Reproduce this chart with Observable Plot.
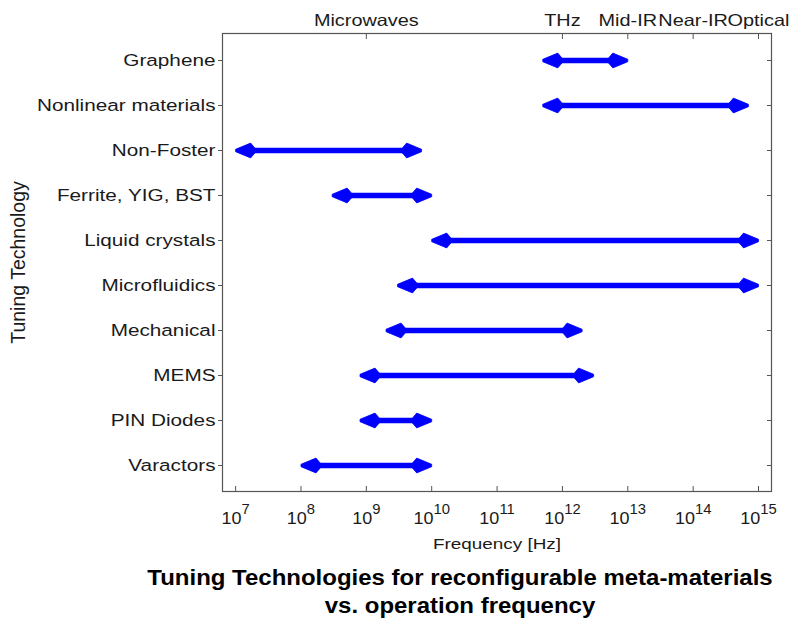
<!DOCTYPE html>
<html><head><meta charset="utf-8">
<script src="https://cdn.jsdelivr.net/npm/d3@7"></script>
<script src="https://cdn.jsdelivr.net/npm/@observablehq/plot@0.6"></script>
<style>
html,body{margin:0;padding:0;background:#fff;overflow:hidden;}
#chart{position:absolute;left:0;top:0;}
#title{position:absolute;left:110px;top:564px;width:700px;text-align:center;font-family:"Liberation Sans",Arial,sans-serif;font-weight:bold;font-size:22px;line-height:28px;color:#000;transform:scaleX(1.09);transform-origin:350px 0;}
</style></head><body>
<div id="chart"></div>
<div id="title">Tuning Technologies for reconfigurable meta-materials<br>vs. operation frequency</div>
<script>
// Data (Hz)
const technologies = ["Graphene","Nonlinear materials","Non-Foster","Ferrite, YIG, BST","Liquid crystals","Microfluidics","Mechanical","MEMS","PIN Diodes","Varactors"];
const lowFreq  = [5e11, 5e11, 1e7, 3e8, 1e10, 3e9, 2e9, 8e8, 8e8, 1e8];
const highFreq = [1e13, 7e14, 7e9, 1e10, 1e15, 1e15, 2e12, 3e12, 1e10, 1e10];
const bottomTicks = [1e7,1e8,1e9,1e10,1e11,1e12,1e13,1e14,1e15];
const bandTicks = [1e9, 1e12, 1e13, 1e14, 1e15];
const bandLabels = ["Microwaves","THz","Mid-IR","Near-IR","Optical"];
const xLabel = "Frequency [Hz]";
const yLabel = "Tuning Technology";

const rows = technologies.map((t,i)=>({tech:t, lo:lowFreq[i], hi:highFreq[i]}));

// arrowhead symbol, tip at origin pointing right
const head = {draw(ctx){
  ctx.moveTo(0,-1.2); ctx.lineTo(-15,-7.4); ctx.lineTo(-19,-2.7);
  ctx.lineTo(-19,2.7); ctx.lineTo(-15,7.4); ctx.lineTo(0,1.2); ctx.closePath();
}};

const blue = "#0000ff", frameCol = "#555";
const font = "Liberation Sans, Arial, sans-serif";

const plot = Plot.plot({
  width: 790, height: 564,
  marginTop: 33, marginBottom: 73, marginLeft: 222, marginRight: 19,
  style: {fontFamily: font, color: "#1a1a1a", background: "#fff"},
  x: {type: "log", domain: [6.3e6, 1.58e15]},
  y: {type: "point", domain: technologies, padding: 0.5},
  marks: [
    Plot.frame({stroke: frameCol, strokeWidth: 1.2}),
    // bottom
    Plot.axisX({anchor: "bottom", ticks: bottomTicks, tickSize: -5, text: null, stroke: frameCol, label: null}),
    Plot.axisX({anchor: "bottom", ticks: bottomTicks, tickSize: 0, tickPadding: 20, fontSize: 17,
      tickFormat: d => "10^" + Math.round(Math.log10(d)), label: null}),
    // top
    Plot.axisX({anchor: "top", ticks: bandTicks, tickSize: -5, text: null, stroke: frameCol, label: null}),
    Plot.axisX({anchor: "top", ticks: bandTicks, tickSize: 0, tickPadding: 8, fontSize: 16.3,
      tickFormat: d => bandLabels[bandTicks.indexOf(d)], label: null}),
    // left / right
    Plot.axisY({anchor: "left", tickSize: 4, tickPadding: 3, fontSize: 17, stroke: frameCol, label: null}),
    Plot.axisY({anchor: "right", tickSize: -5, text: null, stroke: frameCol, label: null}),
    Plot.text([xLabel], {frameAnchor: "bottom", dy: 53, fontSize: 15.5, lineAnchor: "middle", textAnchor: "middle", fill: "#1a1a1a"}),
    Plot.text([yLabel], {frameAnchor: "left", dx: -204, rotate: -90, fontSize: 19.5, textAnchor: "middle", lineAnchor: "middle", fill: "#1a1a1a"}),
    // arrows
    Plot.ruleY(rows, {y: "tech", x1: "lo", x2: "hi", stroke: blue, strokeWidth: 5.5, insetLeft: 12, insetRight: 12}),
    Plot.dot(rows, {x: "lo", y: "tech", symbol: head, rotate: 180, fill: blue, stroke: blue, strokeWidth: 0.8, strokeLinejoin: "round"}),
    Plot.dot(rows, {x: "hi", y: "tech", symbol: head, rotate: 0, fill: blue, stroke: blue, strokeWidth: 0.8, strokeLinejoin: "round"})
  ]
});
document.getElementById("chart").append(plot);

const ns = "http://www.w3.org/2000/svg";
plot.querySelectorAll("text").forEach(t => {
  const tr = t.getAttribute("transform") || "";
  if (/rotate/.test(tr)) return;
  const m = t.textContent.match(/^10\^(\d+)$/);
  if (m) {
    t.textContent = "";
    const a = document.createElementNS(ns, "tspan"); a.textContent = "10";
    const b = document.createElementNS(ns, "tspan"); b.textContent = m[1];
    b.setAttribute("dy", "-10"); b.setAttribute("font-size", "14px");
    t.append(a, b);
    t.setAttribute("transform", tr + " scale(1.06,1)");
  } else {
    t.setAttribute("transform", tr + " scale(1.22,1)");
  }
});
</script>
</body></html>
